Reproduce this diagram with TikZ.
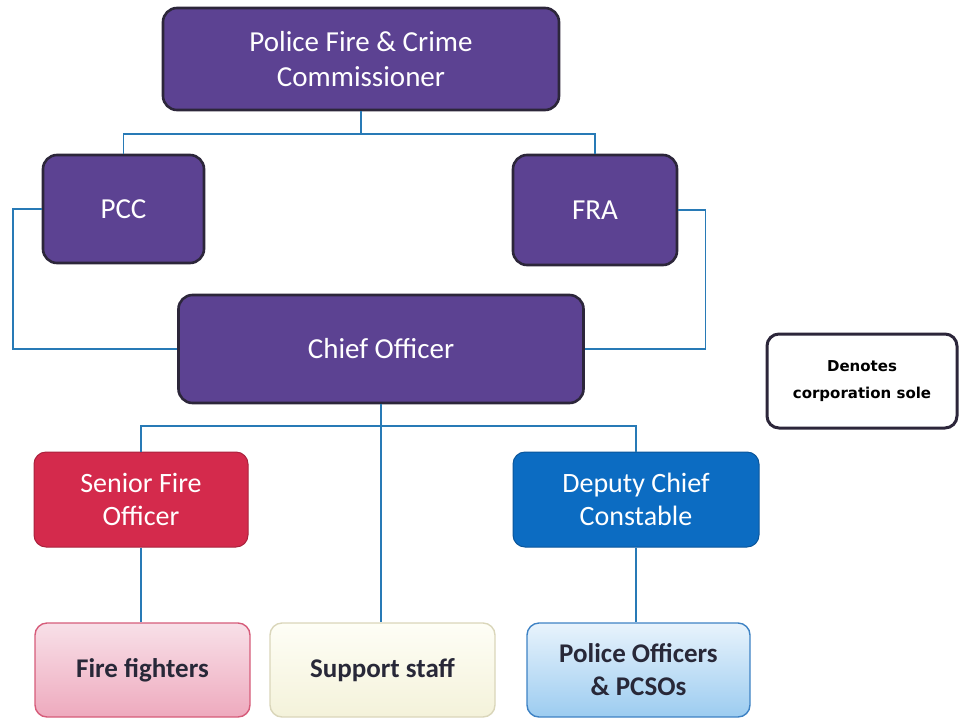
\documentclass[tikz,border=0pt]{standalone}
\usepackage{fontspec}
\setmainfont{Carlito}
\newfontfamily\keyfont{DejaVu Sans}
\usetikzlibrary{positioning}

\definecolor{pfccpurple}{RGB}{92,66,146}
\definecolor{pfccedge}{RGB}{44,38,58}
\definecolor{firered}{RGB}{212,42,76}
\definecolor{policeblue}{RGB}{12,108,194}
\definecolor{linkblue}{RGB}{40,122,182}
\definecolor{darktext}{RGB}{40,40,56}

\begin{document}
\begin{tikzpicture}
	[x=1pt, y=-1pt,
		office/.style		={rectangle, rounded corners=14pt, draw=pfccedge, line width=2.6pt,
									fill=pfccpurple, text=white, align=center,
									font=\fontsize{29}{35}\selectfont, inner sep=0pt},
		senior/.style		={rectangle, rounded corners=12pt, draw=firered!80!black, line width=1pt,
									fill=firered, text=white, align=center,
									font=\fontsize{28}{33}\selectfont, inner sep=0pt},
		deputy/.style		={senior, draw=policeblue!80!black, fill=policeblue},
		staff/.style		={rectangle, rounded corners=12pt, line width=1.4pt,
									text=darktext, align=center,
									font=\bfseries\fontsize{27}{33}\selectfont, inner sep=0pt},
		legend/.style		={rectangle, rounded corners=12pt, draw=pfccedge, line width=3pt,
									fill=white, align=center,
									font=\keyfont\bfseries\fontsize{15}{27}\selectfont, inner sep=0pt},
		line/.style		 	={draw=linkblue, line width=1.6pt}
	]
\useasboundingbox (0,0) rectangle (961,718);

% top
\node [office, minimum width=396pt, minimum height=102pt] (pfcc)	at (361,59)
		{Police Fire \& Crime\\Commissioner};
% corporations
\node [office, minimum width=161pt, minimum height=108pt] (pcc)		at (123.5,209)	{PCC};
\node [office, minimum width=164pt, minimum height=110pt] (fra)		at (595,210)	{FRA};
\node [office, minimum width=405pt, minimum height=108pt] (chief)	at (381,349)	{Chief Officer};
% heads
\node [senior, minimum width=214pt, minimum height=95pt] (senior fire)	at (141,499.5)
		{Senior Fire\\Officer};
\node [deputy, minimum width=246pt, minimum height=95pt] (deputy chief)	at (636,499.5)
		{Deputy Chief\\Constable};
% staff
\node [staff, minimum width=215pt, minimum height=94pt,
		draw={rgb,255:red,214;green,92;blue,122},
		top color={rgb,255:red,248;green,224;blue,232},
		bottom color={rgb,255:red,238;green,170;blue,190}] (fire fighters)	at (142.5,670)
		{Fire fighters};
\node [staff, minimum width=225pt, minimum height=94pt,
		draw={rgb,255:red,218;green,214;blue,186},
		top color={rgb,255:red,254;green,254;blue,246},
		bottom color={rgb,255:red,244;green,242;blue,218}] (support staff)	at (382.5,670)
		{Support staff};
\node [staff, minimum width=223pt, minimum height=94pt,
		draw={rgb,255:red,62;green,130;blue,196},
		top color={rgb,255:red,232;green,243;blue,252},
		bottom color={rgb,255:red,156;green,204;blue,240}] (police officers)	at (638.5,670)
		{Police Officers\\\& PCSOs};
% key
\node [legend, minimum width=190pt, minimum height=94pt] (key)	at (862,381)
		{Denotes\\corporation sole};

\begin{scope}[every path/.style=line]

	\coordinate (top bus)		at (pfcc.south |- 0,134);
	\coordinate (low bus)		at (chief.south |- 0,426);

	\path					(pfcc)				-- (top bus);
	\path					(top bus)			-| (pcc);
	\path					(top bus)			-| (fra);

	\path					(pcc.west)			-- ++(-29,0) |- (chief.west);
	\path					(fra.east)			-- ++(27,0) |- (chief.east);

	\path					(chief)				-- (low bus);
	\path					(low bus)			-| (senior fire);
	\path					(low bus)			-| (deputy chief);
	\path					(low bus)			-- (low bus |- support staff.north);

	\path					(senior fire)		-- (senior fire.south |- fire fighters.north);
	\path					(deputy chief)		-- (deputy chief.south |- police officers.north);
\end{scope}
\end{tikzpicture}
\end{document}
